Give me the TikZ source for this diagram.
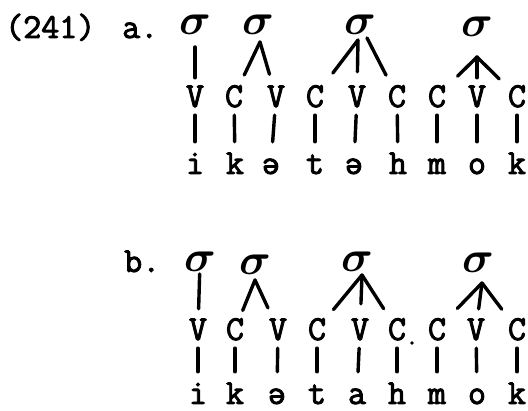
\RequirePackage{fix-cm}
\documentclass[tikz,border=0pt]{standalone}
\usepackage{fontspec}
\setmonofont{Latin Modern Mono}[AutoFakeBold=2.6]
\begin{document}
\begin{tikzpicture}[x=1pt, y=-1pt,
    every node/.style={font=\fontsize{35}{35}\selectfont\ttfamily\bfseries, inner sep=0pt},
    sig/.style={font=\fontsize{44}{44}\selectfont\boldmath},
    cv/.style={anchor=base, text height=21pt, text depth=0pt},
    seg/.style={anchor=base, text height=20pt, text depth=0pt},
    assoc/.style={line width=3.4pt, line cap=round, shorten >=12pt},
    tier/.style={line width=3.4pt, line cap=round, shorten <=8pt, shorten >=12pt}]
    \useasboundingbox (0,0) rectangle (528,411);

    % Номер примера
    \node[anchor=base west] (num) at (5,38) {(241)};
    \node[anchor=base west] (la) at (122,38) {a.};
    \node[anchor=base west] (lb) at (124,272) {b.};

    % (a) слоги
    \node[sig] (sa1) at (195,25) {$\sigma$};
    \node[sig] (sa2) at (258,25) {$\sigma$};
    \node[sig] (sa3) at (360,25) {$\sigma$};
    \node[sig] (sa4) at (477,27) {$\sigma$};

    % (a) CV-ярус
    \node[cv] (ca1) at (195,107) {V};
    \node[cv] (ca2) at (234,107) {C};
    \node[cv] (ca3) at (276,107) {V};
    \node[cv] (ca4) at (315,107) {C};
    \node[cv] (ca5) at (357,107) {V};
    \node[cv] (ca6) at (397,107) {C};
    \node[cv] (ca7) at (437,107) {C};
    \node[cv] (ca8) at (477,107) {V};
    \node[cv] (ca9) at (517,107) {C};

    % (a) сегменты
    \node[seg] (ga1) at (195,174) {i};
    \node[seg] (ga2) at (235,174) {k};
    \node[seg] (ga3) at (271,174) {ə};
    \node[seg] (ga4) at (315,174) {t};
    \node[seg] (ga5) at (354,174) {ə};
    \node[seg] (ga6) at (398,174) {h};
    \node[seg] (ga7) at (437,174) {m};
    \node[seg] (ga8) at (477,174) {o};
    \node[seg] (ga9) at (517,174) {k};

    % (a) ассоциативные линии
    \coordinate (pa2) at (260,42);
    \coordinate (pa3) at (358,40);
    \coordinate (pa3r) at (367,38);
    \coordinate (pa4) at (477,57);
    \draw[assoc, shorten <=12pt, shorten >=8pt] (sa1) -- (ca1);
    \draw[assoc] (pa2) -- (ca2);
    \draw[assoc] (pa2) -- (ca3);
    \draw[assoc, shorten >=16pt] (pa3) -- (ca4);
    \draw[assoc, shorten >=14pt] (pa3) -- (ca5);
    \draw[assoc] (pa3r) -- (ca6);
    \draw[assoc, shorten >=16pt] (pa4) -- (ca7);
    \draw[assoc, shorten >=8pt] (pa4) -- (ca8);
    \draw[assoc] (pa4) -- (ca9);
    \draw[tier] (ca1) -- (ga1);
    \draw[tier] (ca2) -- (ga2);
    \draw[tier] (ca3) -- (ga3);
    \draw[tier] (ca4) -- (ga4);
    \draw[tier] (ca5) -- (ga5);
    \draw[tier] (ca6) -- (ga6);
    \draw[tier] (ca7) -- (ga7);
    \draw[tier] (ca8) -- (ga8);
    \draw[tier] (ca9) -- (ga9);

    % (b) слоги
    \node[sig] (sb1) at (200,262) {$\sigma$};
    \node[sig] (sb2) at (255,265) {$\sigma$};
    \node[sig] (sb3) at (357,262) {$\sigma$};
    \node[sig] (sb4) at (478,263) {$\sigma$};

    % (b) CV-ярус
    \node[cv] (cb1) at (198,340) {V};
    \node[cv] (cb2) at (235,340) {C};
    \node[cv] (cb3) at (278,340) {V};
    \node[cv] (cb4) at (317,340) {C};
    \node[cv] (cb5) at (360,340) {V};
    \node[cv] (cb6) at (397,340) {C};
    \node[cv] (cb7) at (437,340) {C};
    \node[cv] (cb8) at (476,340) {V};
    \node[cv] (cb9) at (517,340) {C};
    \node[circle, fill, inner sep=1.3pt] (dot) at (412,343) {};

    % (b) сегменты
    \node[seg] (gb1) at (198,404) {i};
    \node[seg] (gb2) at (235,404) {k};
    \node[seg] (gb3) at (277,404) {ə};
    \node[seg] (gb4) at (317,404) {t};
    \node[seg] (gb5) at (357,404) {a};
    \node[seg] (gb6) at (397,404) {h};
    \node[seg] (gb7) at (437,404) {m};
    \node[seg] (gb8) at (477,404) {o};
    \node[seg] (gb9) at (517,404) {k};

    % (b) ассоциативные линии
    \coordinate (pb2) at (255,280);
    \coordinate (pb3) at (362,275);
    \coordinate (pb4) at (482,283);
    \draw[assoc, shorten <=2pt, shorten >=10pt] (sb1) -- (cb1);
    \draw[assoc, shorten >=9pt] (pb2) -- (cb2);
    \draw[assoc] (pb2) -- (cb3);
    \draw[assoc] (pb3) -- (cb4);
    \draw[assoc, shorten >=15pt] (pb3) -- (cb5);
    \draw[assoc] (pb3) -- (cb6);
    \draw[assoc, shorten >=16pt] (pb4) -- (cb7);
    \draw[assoc, shorten >=10pt] (pb4) -- (cb8);
    \draw[assoc] (pb4) -- (cb9);
    \draw[tier] (cb1) -- (gb1);
    \draw[tier] (cb2) -- (gb2);
    \draw[tier] (cb3) -- (gb3);
    \draw[tier] (cb4) -- (gb4);
    \draw[tier] (cb5) -- (gb5);
    \draw[tier] (cb6) -- (gb6);
    \draw[tier] (cb7) -- (gb7);
    \draw[tier] (cb8) -- (gb8);
    \draw[tier] (cb9) -- (gb9);
\end{tikzpicture}
\end{document}
